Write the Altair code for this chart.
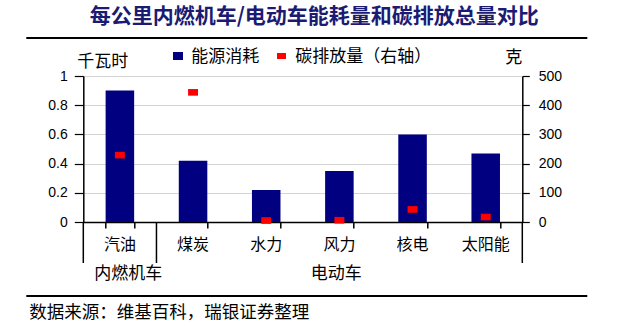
import altair as alt
import pandas as pd

# ---- data ----
categories = ["汽油", "煤炭", "水力", "风力", "核电", "太阳能"]
energy_kwh = [0.90, 0.42, 0.22, 0.35, 0.60, 0.47]
carbon_g = [229, 444, 5, 6, 43, 17]
groups = ["内燃机车", "电动车"]
left_ticks = [0, 0.2, 0.4, 0.6, 0.8, 1]
right_ticks = [0, 100, 200, 300, 400, 500]
title_text = "每公里内燃机车/电动车能耗量和碳排放总量对比"
source_text = "数据来源：维基百科，瑞银证券整理"
legend_labels = ["能源消耗", "碳排放量（右轴）"]
units = ["千瓦时", "克"]

df = pd.DataFrame({"cat": categories, "energy": energy_kwh, "carbon": carbon_g})

CJK = "Noto Sans CJK SC"
NUM = "Liberation Sans"
NAVY = "#000080"
RED = "#ff0000"

W, H = 439, 146

x_enc = alt.X(
    "cat:N",
    sort=categories,
    scale=alt.Scale(paddingInner=0.61, paddingOuter=0.305),
    axis=alt.Axis(
        title=None, labels=False, tickBand="extent", tickSize=6,
        tickColor="black", tickWidth=1.5, domainColor="black", domainWidth=1.5, grid=False,
    ),
)

bars = alt.Chart(df).mark_bar(color=NAVY).encode(
    x=x_enc,
    y=alt.Y(
        "energy:Q",
        scale=alt.Scale(domain=[0, 1], nice=False),
        axis=alt.Axis(
            values=left_ticks, format="~g", title=None, grid=True,
            gridColor="#d4d4d4", gridWidth=1, tickSize=9, tickColor="black",
            tickWidth=1.2, domainColor="black", domainWidth=1.5,
            labelFont=NUM, labelFontSize=14, labelColor="black", labelPadding=7,
        ),
    ),
)

points = alt.Chart(df).mark_point(
    shape="M-1.5,-1L1.5,-1L1.5,1L-1.5,1Z", filled=True, color=RED, opacity=1, size=44
).encode(
    x=x_enc,
    y=alt.Y(
        "carbon:Q",
        scale=alt.Scale(domain=[0, 500], nice=False),
        axis=alt.Axis(
            orient="right", values=right_ticks, title=None, grid=False,
            tickSize=7, tickColor="black", tickWidth=1.2, domainColor="black",
            domainWidth=1.5, labelFont=NUM, labelFontSize=14, labelColor="black",
            labelPadding=9,
        ),
    ),
)

bars_pts = alt.layer(bars, points).resolve_scale(y="independent")

cat_labels = alt.Chart(df).mark_text(font=CJK, fontSize=16, color="black", baseline="middle").encode(
    x=alt.X("cat:N", sort=categories), y=alt.value(169), text="cat:N"
)

one = pd.DataFrame({"a": [0]})


def text_at(t, x, y, size, align="left", weight="normal", color="black"):
    return alt.Chart(pd.DataFrame({"t": [t]})).mark_text(
        font=CJK, fontSize=size, align=align, baseline="middle",
        fontWeight=weight, color=color,
    ).encode(x=alt.value(x), y=alt.value(y), text="t:N")


def hline(x1, x2, y, w):
    return alt.Chart(one).mark_rule(color="black", strokeWidth=w).encode(
        x=alt.value(x1), x2=alt.value(x2), y=alt.value(y)
    )


def vline(x, y1, y2, w):
    return alt.Chart(one).mark_rule(color="black", strokeWidth=w).encode(
        x=alt.value(x), y=alt.value(y1), y2=alt.value(y2)
    )


def box(x1, x2, y1, y2, color):
    return alt.Chart(one).mark_rect(color=color).encode(
        x=alt.value(x1), x2=alt.value(x2), y=alt.value(y1), y2=alt.value(y2)
    )


step = W / len(categories)

decor = [
    text_at(title_text, 231, -59, 21, align="center", weight="bold", color="#1b1b74"),
    hline(-57, 504, -38, 2),
    hline(-57, 504, 220, 2),
    text_at(source_text, -54, 237, 17.5),
    text_at(units[0], -6, -14, 17),
    text_at(units[1], 422, -18, 17),
    box(89.7, 99.7, -24, -16, NAVY),
    text_at(legend_labels[0], 108, -19, 17),
    box(193.7, 202.7, -23, -17, RED),
    text_at(legend_labels[1], 212, -19, 17),
    vline(0, H, 187, 1.5),
    vline(step, H, 187, 1.5),
    vline(W, H, 187, 1.5),
    text_at(groups[0], 45, 198, 17, align="center"),
    text_at(groups[1], 253, 198, 17, align="center"),
]

chart = alt.layer(bars_pts, cat_labels, *decor).properties(
    width=W,
    height=H,
    autosize=alt.AutoSizeParams(type="none"),
    padding={"left": 83.3, "top": 76, "right": 640 - 83.3 - W, "bottom": 330 - 76 - H},
    background="white",
).configure_view(stroke=None)

chart.save("out.html", embed_options={"renderer": "svg", "actions": False})
